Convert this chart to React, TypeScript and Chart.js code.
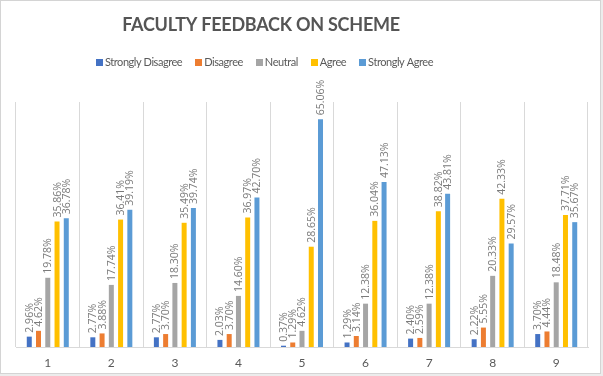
import { useEffect, useRef } from 'react';
import { Chart, registerables } from 'chart.js';

Chart.register(...registerables);

const categories = ['1', '2', '3', '4', '5', '6', '7', '8', '9'];
const seriesNames = ['Strongly Disagree', 'Disagree', 'Neutral', 'Agree', 'Strongly Agree'];
const stronglyDisagree = [2.96, 2.77, 2.77, 2.03, 0.37, 1.29, 2.4, 2.22, 3.7];
const disagree = [4.62, 3.88, 3.7, 3.7, 1.29, 3.14, 2.59, 5.55, 4.44];
const neutral = [19.78, 17.74, 18.3, 14.6, 4.62, 12.38, 12.38, 20.33, 18.48];
const agree = [35.86, 36.41, 35.49, 36.97, 28.65, 36.04, 38.82, 42.33, 37.71];
const stronglyAgree = [36.78, 39.19, 39.74, 42.7, 65.06, 47.13, 43.81, 29.57, 35.67];
const seriesColors = ['#4472C4', '#ED7D31', '#A5A5A5', '#FFC000', '#5B9BD5'];
const titleText = 'FACULTY FEEDBACK ON SCHEME';
const yMin = 0;
const yMax = 70;

const W = 603;
const H = 376;

const framePlugin = {
  id: 'frame',
  beforeDraw(chart: any) {
    const ctx = chart.ctx;
    ctx.save();
    ctx.fillStyle = '#ffffff';
    ctx.fillRect(0, 0, W, H);
    ctx.fillStyle = '#ececec';
    ctx.fillRect(601, 0, 2, H);
    ctx.fillRect(0, 374, W, 2);
    ctx.strokeStyle = '#d4d4d4';
    ctx.lineWidth = 1;
    ctx.strokeRect(0.5, 0.5, 600, 373);
    ctx.restore();
  },
};

const headerPlugin = {
  id: 'header',
  afterDraw(chart: any) {
    const ctx = chart.ctx;
    ctx.save();
    // title
    ctx.font = "bold 18px Lato, 'Open Sans', sans-serif";
    ctx.fillStyle = '#555555';
    ctx.textBaseline = 'middle';
    const natural = ctx.measureText(titleText).width;
    const spacing = Math.max(-1, (278 - natural) / (titleText.length - 1));
    try {
      (ctx as any).letterSpacing = spacing.toFixed(2) + 'px';
    } catch (e) {}
    const tw = ctx.measureText(titleText).width;
    ctx.textAlign = 'left';
    ctx.fillText(titleText, 261 - tw / 2, 25);
    try {
      (ctx as any).letterSpacing = '0px';
    } catch (e) {}

    // legend
    ctx.font = "11px Lato, 'Open Sans', sans-serif";
    try {
      (ctx as any).letterSpacing = '-0.45px';
    } catch (e) {}
    const box = 7;
    const gapText = 2;
    const gapItem = 13;
    const items = chart.data.datasets.map((d: any) => ({
      text: d.label,
      color: d.backgroundColor,
      w: ctx.measureText(d.label).width,
    }));
    let total = 0;
    items.forEach((it: any, i: number) => {
      total += box + gapText + it.w + (i < items.length - 1 ? gapItem : 0);
    });
    let x = 264.5 - total / 2;
    const cy = 62;
    items.forEach((it: any) => {
      ctx.fillStyle = it.color;
      ctx.fillRect(Math.round(x), Math.round(cy - box / 2), box, box);
      ctx.fillStyle = '#595959';
      ctx.textAlign = 'left';
      ctx.fillText(it.text, x + box + gapText, cy + 0.5);
      x += box + gapText + it.w + gapItem;
    });
    ctx.restore();
  },
};

const labelPlugin = {
  id: 'barLabels',
  afterDatasetsDraw(chart: any) {
    const ctx = chart.ctx;
    ctx.save();
    ctx.font = "10.5px 'Open Sans', sans-serif";
    ctx.fillStyle = '#7a7a7a';
    ctx.textAlign = 'left';
    ctx.textBaseline = 'middle';
    chart.data.datasets.forEach((ds: any, di: number) => {
      const meta = chart.getDatasetMeta(di);
      meta.data.forEach((bar: any, i: number) => {
        const v = ds.data[i];
        const text = v.toFixed(2) + '%';
        ctx.save();
        ctx.translate(bar.x + 0.5, bar.y - 4);
        ctx.rotate(-Math.PI / 2);
        ctx.fillText(text, 0, 0);
        ctx.restore();
      });
    });
    ctx.restore();
  },
};

export default function App() {
  const ref = useRef<HTMLCanvasElement | null>(null);

  useEffect(() => {
    document.body.style.margin = '0';
    const canvas = ref.current;
    if (!canvas) return;
    const values = [stronglyDisagree, disagree, neutral, agree, stronglyAgree];
    const chart = new Chart(canvas, {
      type: 'bar',
      data: {
        labels: categories,
        datasets: seriesNames.map((name, i) => ({
          label: name,
          data: values[i],
          backgroundColor: seriesColors[i],
          borderWidth: 0,
          categoryPercentage: 0.728,
          barPercentage: 0.54,
        })),
      },
      options: {
        responsive: false,
        animation: false,
        devicePixelRatio: 1,
        layout: { padding: { top: 102, left: 16, right: 15, bottom: -3 } },
        plugins: {
          legend: { display: false },
          title: { display: false },
          tooltip: { enabled: false },
        },
        scales: {
          x: {
            offset: true,
            grid: { display: true, offset: true, color: '#d9d9d9', drawTicks: false, lineWidth: 1 },
            border: { display: true, color: '#d9d9d9' },
            ticks: {
              color: '#595959',
              padding: 10,
              font: { family: "Lato, 'Open Sans', sans-serif", size: 12, lineHeight: 1 },
            },
          },
          y: {
            display: false,
            min: yMin,
            max: yMax,
          },
        },
      },
      plugins: [framePlugin, labelPlugin, headerPlugin],
    });
    return () => chart.destroy();
  }, []);

  return (
    <div style={{ position: 'absolute', left: 0, top: 0, width: W, height: H }}>
      <canvas ref={ref} width={W} height={H} style={{ display: 'block', width: W, height: H }} />
    </div>
  );
}
